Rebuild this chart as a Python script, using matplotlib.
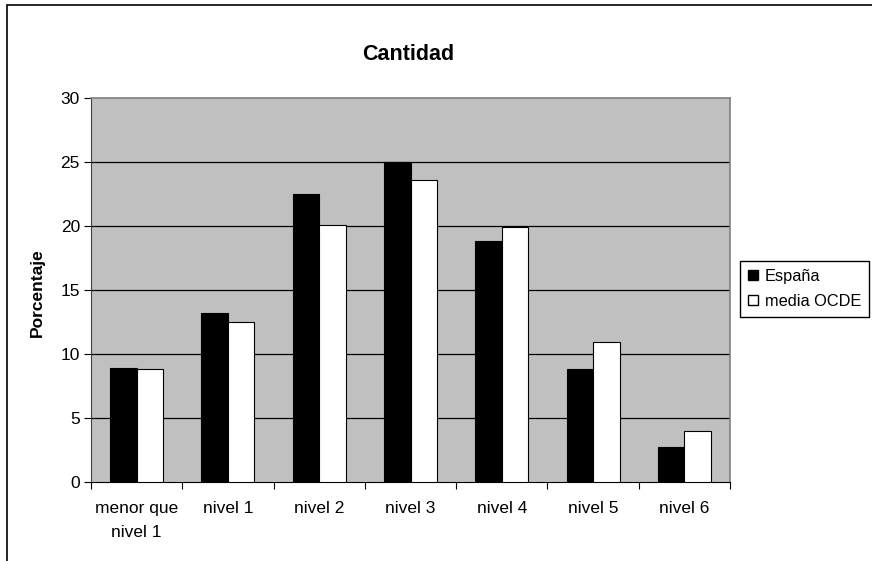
import matplotlib
matplotlib.use("Agg")
import matplotlib.pyplot as plt
from matplotlib.patches import Rectangle
from matplotlib.lines import Line2D
import numpy as np

plt.rcParams['font.family'] = ['Liberation Sans', 'DejaVu Sans']

niveles = ["menor que\nnivel 1", "nivel 1", "nivel 2", "nivel 3", "nivel 4", "nivel 5", "nivel 6"]
espana = [8.9, 13.2, 22.5, 25.0, 18.8, 8.8, 2.7]
media_ocde = [8.8, 12.5, 20.1, 23.6, 19.9, 10.9, 4.0]
yticks = [0, 5, 10, 15, 20, 25, 30]

fig = plt.figure(figsize=(8.72, 5.61), dpi=100)
ax = fig.add_axes([91 / 872, 1 - 481.7 / 561, (730 - 91) / 872, (481.7 - 98) / 561])
ax.set_facecolor("#c0c0c0")

# frame around the whole chart (runs off the right and bottom edges)
fig.patches.append(Rectangle((7 / 872, -0.1), 1.2, 1 - 5 / 561 + 0.1, transform=fig.transFigure,
                             fill=False, edgecolor="black", linewidth=1.2))

x = np.arange(len(niveles))
w = 0.29
ax.bar(x - w / 2, espana, w, color="black", edgecolor="black", linewidth=0.8, zorder=3)
ax.bar(x + w / 2, media_ocde, w, color="white", edgecolor="black", linewidth=0.8, zorder=3)

ax.set_xlim(-0.5, len(niveles) - 0.5)
ax.set_ylim(0, 30)
ax.set_yticks(yticks)
for v in yticks[1:-1]:
    ax.axhline(v, color="black", linewidth=0.9, zorder=1)

ax.set_xticks(x)
ax.set_xticklabels(niveles, fontsize=12.5, linespacing=1.75, va="top")
ax.tick_params(axis="x", length=0, pad=14)
ax.set_xticks(np.arange(-0.5, len(niveles)), minor=True)
ax.tick_params(axis="x", which="minor", length=5, direction="out", color="black", width=0.8)
ax.tick_params(axis="y", length=5, direction="out", width=0.8, labelsize=12.5, pad=3)

for side in ["top", "right"]:
    ax.spines[side].set_color("#808080")
    ax.spines[side].set_linewidth(1.2)
ax.spines["left"].set_color("#404040")
ax.spines["bottom"].set_color("black")

fig.text(408 / 872, 1 - 55 / 561, "Cantidad", ha="center", va="center",
         fontsize=15.5, fontweight="bold")
fig.text(37 / 872, 1 - 293 / 561, "Porcentaje", ha="center", va="center",
         rotation=90, fontsize=12.5, fontweight="bold")

handles = [
    Line2D([], [], marker="s", linestyle="none", markersize=7.5, markerfacecolor="black", markeredgecolor="black"),
    Line2D([], [], marker="s", linestyle="none", markersize=7.5, markerfacecolor="white", markeredgecolor="black"),
]
leg = fig.legend(handles, ["España", "media OCDE"], loc="center left",
                 bbox_to_anchor=(740 / 872, 1 - 289 / 561), fontsize=11.8,
                 frameon=True, fancybox=False, edgecolor="black", framealpha=1,
                 handlelength=0.6, handletextpad=0.4, borderpad=0.5, labelspacing=0.6,
                 borderaxespad=0)
leg.get_frame().set_linewidth(1.0)

fig.savefig("out.png", dpi=100)
